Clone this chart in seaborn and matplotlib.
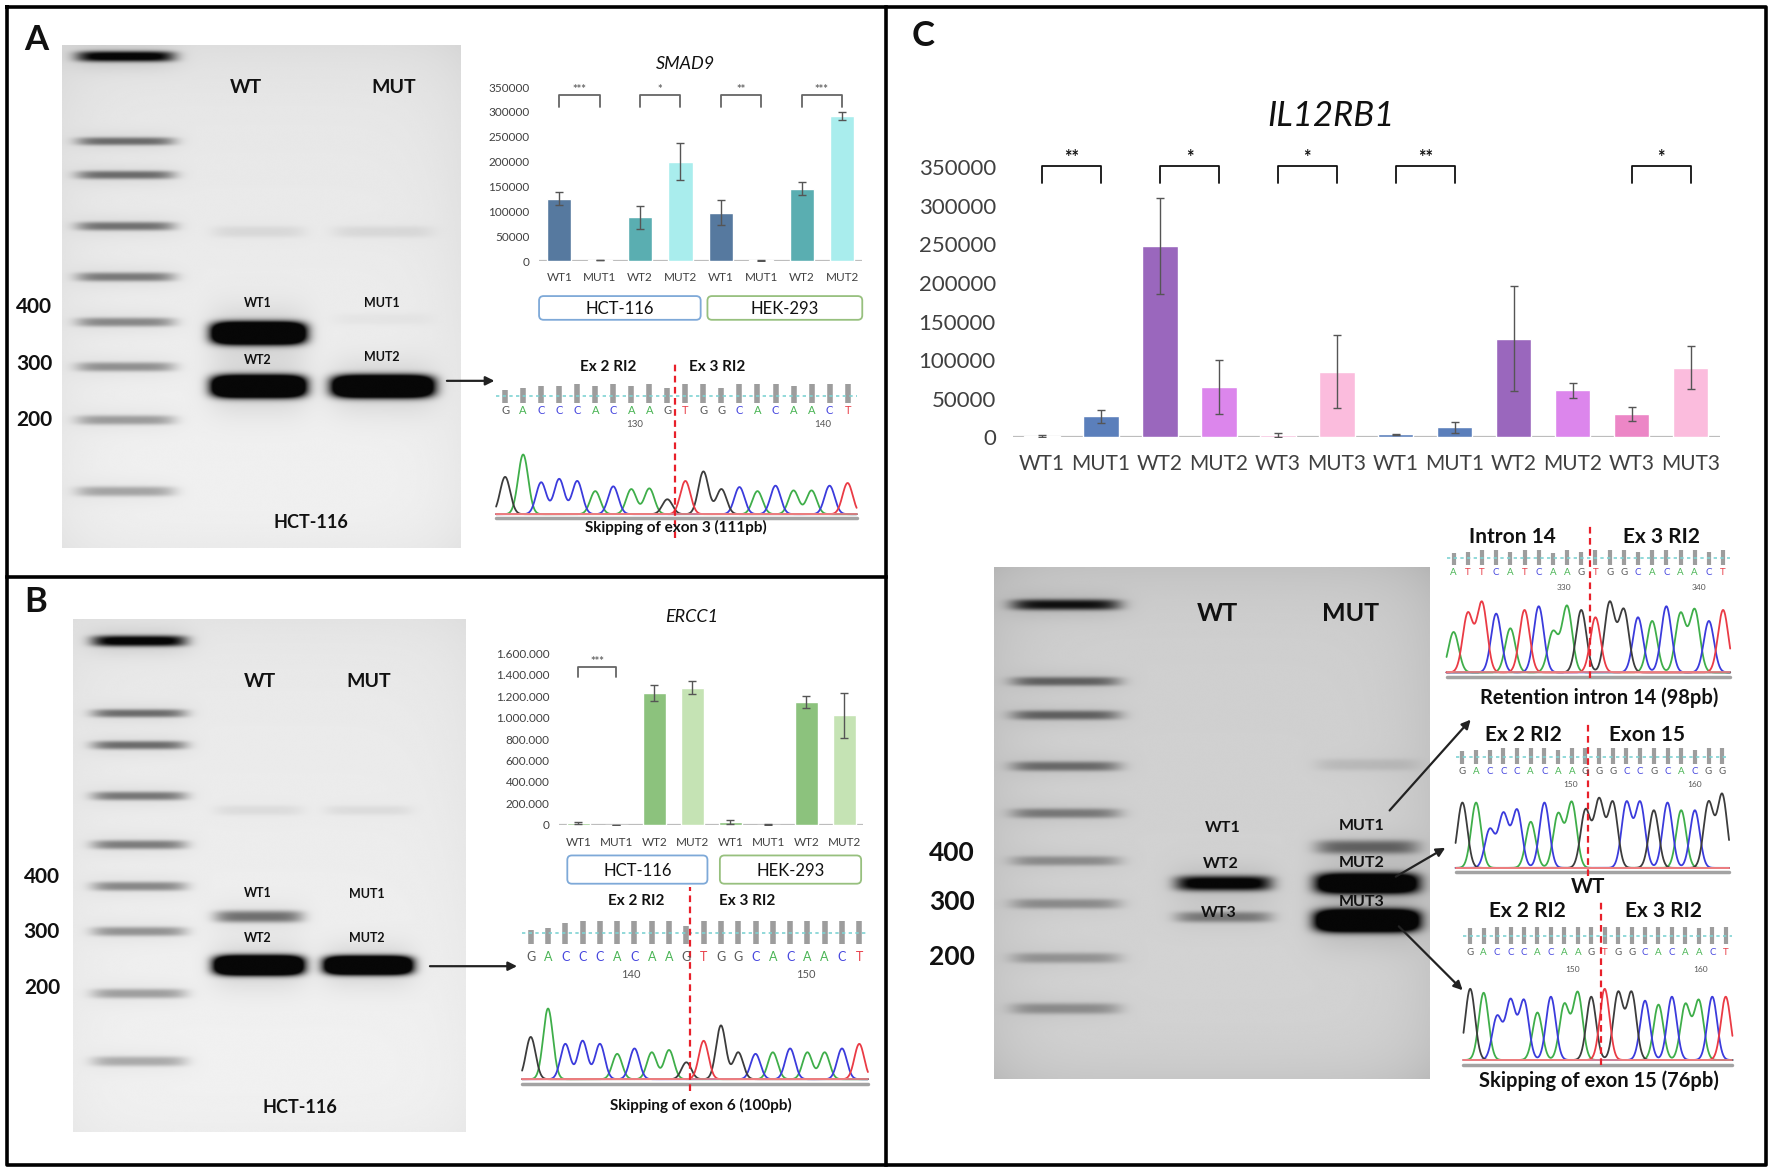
import numpy as np
import pandas as pd
import matplotlib
matplotlib.use("Agg")
import matplotlib.pyplot as plt
import seaborn as sns
from matplotlib.patches import FancyBboxPatch
from matplotlib.transforms import blended_transform_factory

# ---------------- data ----------------
smad9_labels = ["WT1", "MUT1", "WT2", "MUT2", "WT1", "MUT1", "WT2", "MUT2"]
smad9_values = [125000, 2000, 88000, 200000, 97000, 1500, 145000, 291000]
smad9_errors = [13000, 500, 23000, 38000, 25000, 500, 13000, 8000]
smad9_sig = [(0, 1, "***"), (2, 3, "*"), (4, 5, "**"), (6, 7, "***")]

ercc1_labels = ["WT1", "MUT1", "WT2", "MUT2", "WT1", "MUT1", "WT2", "MUT2"]
ercc1_values = [20000, 3000, 1230000, 1280000, 25000, 4000, 1145000, 1020000]
ercc1_errors = [8000, 1000, 75000, 60000, 20000, 1000, 55000, 210000]
ercc1_sig = [(0, 1, "***")]

il12_labels = ["WT1", "MUT1", "WT2", "MUT2", "WT3", "MUT3",
               "WT1", "MUT1", "WT2", "MUT2", "WT3", "MUT3"]
il12_values = [2000, 27000, 248000, 65000, 3000, 85000,
               4000, 13000, 128000, 61000, 30000, 90000]
il12_errors = [1000, 8000, 62000, 35000, 2500, 47000,
               600, 7000, 68000, 10000, 9000, 28000]
il12_sig = [(0, 1, "**"), (2, 3, "*"), (4, 5, "*"), (6, 7, "**"), (10, 11, "*")]

cell_lines = ["HCT-116", "HEK-293"]

# gel bands: migration (0 = top of gel, 1 = bottom) and darkness
gel_a_ladder = [0.022, 0.191, 0.258, 0.360, 0.461, 0.551, 0.640, 0.746, 0.888]
gel_a_ladder_int = [0.92, 0.48, 0.48, 0.46, 0.43, 0.38, 0.35, 0.31, 0.28]
gel_a_wt = [0.371, 0.573, 0.679]
gel_a_wt_int = [0.07, 1.0, 1.0]
gel_a_mut = [0.371, 0.545, 0.679]
gel_a_mut_int = [0.07, 0.03, 1.0]

gel_b_ladder = [0.044, 0.185, 0.247, 0.346, 0.441, 0.522, 0.610, 0.731, 0.863]
gel_b_ladder_int = [0.92, 0.48, 0.48, 0.44, 0.42, 0.38, 0.34, 0.30, 0.26]
gel_b_wt = [0.374, 0.581, 0.676]
gel_b_wt_int = [0.06, 0.45, 1.0]
gel_b_mut = [0.374, 0.676]
gel_b_mut_int = [0.06, 1.0]

gel_c_ladder = [0.073, 0.223, 0.289, 0.389, 0.481, 0.574, 0.658, 0.764, 0.863]
gel_c_ladder_int = [0.80, 0.48, 0.48, 0.44, 0.38, 0.30, 0.30, 0.27, 0.30]
gel_c_wt = [0.618, 0.684]
gel_c_wt_int = [0.82, 0.38]
gel_c_mut = [0.386, 0.547, 0.618, 0.691]
gel_c_mut_int = [0.10, 0.45, 0.92, 1.0]

# chromatograms: called bases, peak heights, quality bars
seq_a = "GACCCACAAGTGGCACAACT"
peaks_a = [0.55, 0.88, 0.47, 0.52, 0.49, 0.34, 0.41, 0.37, 0.38, 0.22,
           0.49, 0.63, 0.37, 0.40, 0.34, 0.42, 0.35, 0.35, 0.42, 0.46]
qual_a = [0.7, 0.8, 0.9, 0.9, 1.0, 0.9, 1.0, 0.9, 1.0, 0.8,
          1.0, 1.0, 0.8, 1.0, 1.0, 1.0, 0.9, 1.0, 1.0, 1.0]
seq_b = "GACCCACAAGTGGCACAACT"
peaks_b = [0.55, 0.92, 0.46, 0.50, 0.46, 0.33, 0.40, 0.35, 0.38, 0.22,
           0.50, 0.70, 0.35, 0.33, 0.35, 0.40, 0.35, 0.35, 0.40, 0.46]
qual_b = [0.6, 0.7, 0.9, 1.0, 1.0, 1.0, 1.0, 1.0, 1.0, 0.8,
          1.0, 1.0, 1.0, 1.0, 1.0, 1.0, 1.0, 1.0, 1.0, 1.0]
seq_c1 = "ATTCATCAAGTGGCACAACT"
peaks_c1 = [0.55, 0.80, 0.95, 0.80, 0.60, 0.85, 0.90, 0.55, 0.90, 0.85,
            0.75, 0.95, 0.85, 0.75, 0.70, 0.90, 0.80, 0.85, 0.70, 0.85]
qual_c1 = [0.8, 0.9, 1.0, 1.0, 0.9, 1.0, 1.0, 0.8, 1.0, 0.9,
           1.0, 1.0, 1.0, 0.9, 1.0, 1.0, 1.0, 1.0, 0.9, 1.0]
seq_c2 = "GACCCACAAGGGCCGCACGG"
peaks_c2 = [0.85, 0.85, 0.50, 0.70, 0.75, 0.60, 0.85, 0.70, 0.85, 0.75,
            0.88, 0.85, 0.85, 0.85, 0.75, 0.85, 0.75, 0.75, 0.85, 0.95]
qual_c2 = [0.8, 0.9, 0.9, 1.0, 1.0, 1.0, 1.0, 0.9, 1.0, 1.0,
           1.0, 1.0, 1.0, 1.0, 1.0, 1.0, 1.0, 0.9, 1.0, 1.0]
seq_c3 = "GACCCACAAGTGGCACAACT"
peaks_c3 = [0.90, 0.85, 0.55, 0.75, 0.75, 0.60, 0.80, 0.70, 0.85, 0.80,
            0.90, 0.85, 0.85, 0.75, 0.70, 0.80, 0.70, 0.75, 0.80, 0.80]
qual_c3 = [0.9, 0.9, 1.0, 1.0, 1.0, 1.0, 1.0, 1.0, 1.0, 1.0,
           1.0, 1.0, 1.0, 1.0, 1.0, 1.0, 1.0, 0.9, 1.0, 1.0]

# ---------------- styling ----------------
W, H = 1568, 1038
TRACE = {"A": "#3fae4a", "C": "#3b3bdc", "G": "#3c3c3c", "T": "#ea3b45"}
LETTER = {"A": "#49b454", "C": "#4646de", "G": "#5a5a5a", "T": "#e8404a"}

sns.set_theme(style="white")
plt.rcParams["font.family"] = ["Lato", "DejaVu Sans"]

fig = plt.figure(figsize=(17.72, 11.73), dpi=100)


def rect(x0, y0, x1, y1):
    return [x0 / W, 1 - y1 / H, (x1 - x0) / W, (y1 - y0) / H]


def bar_panel(box, labels, values, errors, colors, sig, sig_levels, fs_y, fs_x,
              pad_y, pad_x, ymax, step, fmt, sig_color, sig_fs, lw_err):
    ax = fig.add_axes(rect(*box))
    df = pd.DataFrame({"slot": [f"{l}_{i}" for i, l in enumerate(labels)],
                       "value": values})
    sns.barplot(data=df, x="slot", y="value", hue="slot", palette=colors,
                legend=False, width=0.6, saturation=1, ax=ax)
    ax.errorbar(range(len(values)), values, yerr=errors, fmt="none",
                ecolor="#555555", elinewidth=lw_err, capsize=3, capthick=lw_err)
    ax.set_ylim(0, ymax)
    ax.set_xlim(-0.5, len(values) - 0.5)
    ax.set_yticks(np.arange(0, ymax + 1, step))
    ax.set_yticklabels([fmt(v) for v in np.arange(0, ymax + 1, step)])
    ax.set_xticks(range(len(labels)))
    ax.set_xticklabels(labels)
    ax.set_xlabel("")
    ax.set_ylabel("")
    ax.tick_params(axis="y", length=0, pad=pad_y, labelsize=fs_y, labelcolor="#404040")
    ax.tick_params(axis="x", length=0, pad=pad_x, labelsize=fs_x, labelcolor="#404040")
    sns.despine(ax=ax, left=True, bottom=True)
    ax.axhline(0, color="#bdbdbd", lw=1.6, zorder=0.5)
    ax.set_facecolor("none")
    top, leg = sig_levels
    for i, j, txt in sig:
        ax.plot([i, i, j, j], [leg, top, top, leg], color=sig_color, lw=1.3,
                clip_on=False)
        ax.text((i + j) / 2, top, txt, ha="center", va="bottom", fontsize=sig_fs,
                color=sig_color, fontweight="bold", clip_on=False)
    return ax


def draw_gel(box, bg, lanes):
    """Render a gel photo: background plus soft blurred bands."""
    x0, y0, x1, y1 = box
    ax = fig.add_axes(rect(*box))
    ax.set_axis_off()
    ny, nx = int((y1 - y0) * 1.5), int((x1 - x0) * 1.5)
    yy = np.linspace(0, 1, ny)[:, None]
    xx = np.linspace(0, 1, nx)[None, :]
    base = bg[0] + (bg[1] - bg[0]) * yy - bg[2] * (2 * xx - 1) ** 6 - bg[2] * (2 * yy - 1) ** 8
    dark = np.zeros((ny, nx))
    for cx, hw, hh, gain, grow, pos, strength in lanes:
        for p, s in zip(pos, strength):
            thick = hh * (0.55 + 0.45 * s ** 2) * (1 + grow * p)
            amp = s * (1 + (gain - 1) * s ** 4)
            fx = np.exp(-np.abs((xx - cx) / hw) ** 6)
            fy = np.exp(-np.abs((yy - p) / thick) ** 3)
            glow = np.exp(-0.5 * ((yy - p) / (thick * 1.8)) ** 2) * \
                np.exp(-np.abs((xx - cx) / (hw * 1.08)) ** 4)
            dark += amp * fx * fy + 0.12 * s * glow
    img = base * (1 - np.clip(dark, 0, 0.97))
    ax.imshow(img, cmap="gray", vmin=0, vmax=1, extent=(0, 1, 1, 0),
              aspect="auto", interpolation="bicubic")
    ax.set_xlim(0, 1)
    ax.set_ylim(1, 0)
    return ax


def draw_trace(box, seq, peaks, qual, sigma, rows, nums, cut, fs_letter, bar_lw):
    x0, ytop, x1, ybase = box
    ax = fig.add_axes(rect(x0, ytop, x1, ybase))
    ax.set_facecolor("none")
    ax.set_axis_off()
    n = len(seq)
    ax.set_xlim(-0.5, n - 0.5)
    ax.set_ylim(0, 1)
    fr = lambda y: (ybase - y) / (ybase - ytop)
    tr = blended_transform_factory(ax.transData, ax.transAxes)
    xs = np.linspace(-0.5, n - 0.5, 900)
    for b in "ACGT":
        idx = [i for i, c in enumerate(seq) if c == b]
        ys = np.zeros_like(xs)
        for i in idx:
            ys += peaks[i] * np.exp(-0.5 * ((xs - i) / sigma) ** 2)
        ax.plot(xs, ys, color=TRACE[b], lw=1.3, clip_on=False)
    ax.plot([-0.5, n - 0.5], [0, 0], color="#f08a8a", lw=1.2, clip_on=False,
            transform=tr)
    ax.plot([-0.5, n - 0.5], [-0.06, -0.06], color="#a3a3a3", lw=2.5,
            clip_on=False, transform=tr)
    b0, b1 = fr(rows["bars_bot"]), fr(rows["bars_top"])
    for i, q in enumerate(qual):
        ax.vlines(i, b0, b0 + q * (b1 - b0), color="#9d9d9d", lw=bar_lw,
                  transform=tr, clip_on=False)
    ax.plot([-0.5, n - 0.5], [fr(rows["dots"])] * 2, color="#7fd3d3", lw=1.2,
            ls=(0, (2, 2)), transform=tr, clip_on=False)
    for i, c in enumerate(seq):
        ax.text(i, fr(rows["letters"]), c, color=LETTER[c], ha="center",
                va="center", fontsize=fs_letter, transform=tr, clip_on=False)
    for pos, lab in nums:
        ax.text(pos, fr(rows["nums"]), lab, color="#555555", ha="center",
                va="center", fontsize=fs_letter - 1, transform=tr, clip_on=False)
    ax.plot([cut, cut], [fr(rows["cut_bot"]), fr(rows["cut_top"])],
            color="#e8202a", lw=1.6, ls=(0, (3, 2)), transform=tr, clip_on=False)
    return ax


# ---------------- gels ----------------
draw_gel((55, 40, 408, 485), (0.90, 0.95, 0.03),
         [(0.159, 0.123, 0.011, 1.1, 0.6, gel_a_ladder, gel_a_ladder_int),
          (0.493, 0.116, 0.021, 2.4, 0.0, gel_a_wt, gel_a_wt_int),
          (0.805, 0.125, 0.021, 2.4, 0.0, gel_a_mut, gel_a_mut_int)])
draw_gel((65, 548, 412, 1002), (0.91, 0.95, 0.02),
         [(0.168, 0.120, 0.011, 1.1, 0.6, gel_b_ladder, gel_b_ladder_int),
          (0.473, 0.112, 0.018, 2.4, 0.0, gel_b_wt, gel_b_wt_int),
          (0.752, 0.110, 0.017, 2.4, 0.0, gel_b_mut, gel_b_mut_int)])
draw_gel((880, 502, 1265, 955), (0.81, 0.83, 0.05),
         [(0.164, 0.125, 0.012, 1.1, 0.6, gel_c_ladder, gel_c_ladder_int),
          (0.527, 0.110, 0.017, 1.6, 0.0, gel_c_wt, gel_c_wt_int),
          (0.857, 0.118, 0.021, 2.2, 0.0, gel_c_mut, gel_c_mut_int)])

# ---------------- bar charts ----------------
smad9_colors = ["#56799f", "#56799f", "#5aaeb1", "#a9eded",
                "#56799f", "#56799f", "#5aaeb1", "#a9eded"]
bar_panel((477, 77, 763, 231), smad9_labels, smad9_values, smad9_errors,
          smad9_colors, smad9_sig, (333000, 310000), 8.5, 8.5, 7, 8,
          350000, 50000, lambda v: f"{int(v)}", "#666666", 8, 1.0)

ercc1_colors = ["#8cc27d", "#c5e3b4", "#8cc27d", "#c5e3b4",
                "#8cc27d", "#c5e3b4", "#8cc27d", "#c5e3b4"]
bar_panel((495, 578, 764, 730), ercc1_labels, ercc1_values, ercc1_errors,
          ercc1_colors, ercc1_sig, (1470000, 1380000), 8.5, 8.5, 7, 9,
          1600000, 200000, lambda v: f"{int(v):,}".replace(",", "."),
          "#666666", 8, 1.0)

il12_colors = ["#5b7fbb", "#5b7fbb", "#9a67bd", "#dc86ec", "#f4b6d8", "#fbbcdd",
               "#5b7fbb", "#5b7fbb", "#9a67bd", "#dc86ec", "#ec86c6", "#fbbcdd"]
bar_panel((896, 148, 1522, 387), il12_labels, il12_values, il12_errors,
          il12_colors, il12_sig, (352000, 330000), 16, 15, 12, 12,
          350000, 50000, lambda v: f"{int(v)}", "#111111", 13, 1.0)

# ---------------- chromatograms ----------------
draw_trace((439, 395, 758, 455), seq_a, peaks_a, qual_a, 0.28,
           dict(bars_top=340, bars_bot=357, dots=350, letters=363, nums=376,
                cut_top=322, cut_bot=476),
           [(7.2, "130"), (17.6, "140")], 9.4, 8, 4)
draw_trace((462, 887, 768, 955), seq_b, peaks_b, qual_b, 0.28,
           dict(bars_top=815, bars_bot=835, dots=826, letters=847, nums=862,
                cut_top=785, cut_bot=965),
           [(5.8, "140"), (15.9, "150")], 9.2, 9, 4)
draw_trace((1280, 530, 1531, 595), seq_c1, peaks_c1, qual_c1, 0.36,
           dict(bars_top=487, bars_bot=500, dots=494, letters=507, nums=520,
                cut_top=465, cut_bot=600),
           [(7.8, "330"), (17.3, "340")], 9.6, 7, 3)
draw_trace((1288, 700, 1530, 768), seq_c2, peaks_c2, qual_c2, 0.36,
           dict(bars_top=662, bars_bot=676, dots=670, letters=683, nums=694,
                cut_top=640, cut_bot=775),
           [(7.9, "150"), (17.0, "160")], 9.2, 7, 3)
draw_trace((1295, 868, 1533, 938), seq_c3, peaks_c3, qual_c3, 0.36,
           dict(bars_top=820, bars_bot=835, dots=828, letters=843, nums=858,
                cut_top=797, cut_bot=942),
           [(7.6, "150"), (17.1, "160")], 9.7, 7, 3)

# ---------------- overlay: frames, labels, arrows ----------------
ov = fig.add_axes([0, 0, 1, 1], zorder=20)
ov.set_xlim(0, W)
ov.set_ylim(H, 0)
ov.set_axis_off()
ov.set_facecolor("none")

frame = dict(color="black", lw=2.6, solid_capstyle="projecting")
ov.plot([6, 1563, 1563, 6, 6], [6, 6, 1031, 1031, 6], **frame)
ov.plot([784, 784], [6, 1031], **frame)
ov.plot([6, 784], [511, 511], **frame)


def t(x, y, s, fs, **kw):
    kw.setdefault("fontweight", "bold")
    ov.text(x, y, s, fontsize=fs, ha="center", va="center", color="#111111", **kw)


t(32, 35, "A", 25)
t(32, 533, "B", 25)
t(817, 32, "C", 25)

# gel A
t(218, 77, "WT", 14)
t(348, 77, "MUT", 14)
for x, y, s in [(228, 268, "WT1"), (228, 319, "WT2"), (338, 268, "MUT1"), (338, 316, "MUT2")]:
    t(x, y, s, 9)
t(275, 462, "HCT-116", 13)
for y, s in [(272, "400"), (322, "300"), (372, "200")]:
    t(30, y, s, 15)
# gel B
t(230, 603, "WT", 14)
t(326, 603, "MUT", 14)
for x, y, s in [(228, 790, "WT1"), (228, 830, "WT2"), (325, 791, "MUT1"), (325, 830, "MUT2")]:
    t(x, y, s, 9)
t(265, 980, "HCT-116", 13)
for y, s in [(776, "400"), (825, "300"), (874, "200")]:
    t(37, y, s, 15)
# gel C
t(1077, 543, "WT", 18)
t(1195, 543, "MUT", 18)
for x, y, s in [(1082, 733, "WT1"), (1080, 765, "WT2"), (1078, 808, "WT3"),
                (1205, 731, "MUT1"), (1205, 764, "MUT2"), (1205, 798, "MUT3")]:
    t(x, y, s, 11.5)
for y, s in [(755, "400"), (798, "300"), (847, "200")]:
    t(842, y, s, 19)

# chart titles
t(607, 57, "SMAD9", 13, fontweight="normal", fontstyle="italic")
t(612, 546, "ERCC1", 13, fontweight="normal", fontstyle="italic")
t(1178, 103, "IL12RB1", 25, fontweight="normal", fontstyle="italic")

# cell line boxes
for (x0, y0, x1, y1), name, ec in [((477, 262, 620, 283), cell_lines[0], "#7ea9d8"),
                                   ((626, 262, 763, 283), cell_lines[1], "#97c07e"),
                                   ((502, 757, 626, 782), cell_lines[0], "#7ea9d8"),
                                   ((637, 757, 762, 782), cell_lines[1], "#97c07e")]:
    ov.add_patch(FancyBboxPatch((x0, y0), x1 - x0, y1 - y0,
                                boxstyle="round,pad=0,rounding_size=4",
                                fc="white", ec=ec, lw=1.3))
    t((x0 + x1) / 2, (y0 + y1) / 2 + 1, name, 12, fontweight="normal")

# chromatogram headings and captions
for x, y, s in [(538, 325, "Ex 2 RI2"), (635, 325, "Ex 3 RI2"),
                (563, 797, "Ex 2 RI2"), (661, 797, "Ex 3 RI2")]:
    t(x, y, s, 11)
t(598, 467, "Skipping of exon 3 (111pb)", 11)
t(620, 978, "Skipping of exon 6 (100pb)", 11)
for x, y, s in [(1338, 475, "Intron 14"), (1470, 475, "Ex 3 RI2"),
                (1348, 650, "Ex 2 RI2"), (1457, 650, "Exon 15"),
                (1352, 806, "Ex 2 RI2"), (1472, 806, "Ex 3 RI2")]:
    t(x, y, s, 15)
t(1415, 617, "Retention intron 14 (98pb)", 14.5)
t(1405, 785, "WT", 15)
t(1415, 956, "Skipping of exon 15 (76pb)", 14.5)

# arrows
arrow = dict(arrowstyle="-|>", color="#222222", lw=1.6, mutation_scale=13)
for start, end in [((393, 337), (440, 337)), ((378, 855), (460, 855)),
                   ((1228, 719), (1303, 635)), ((1233, 777), (1281, 749)),
                   ((1236, 818), (1296, 878))]:
    ov.annotate("", xy=end, xytext=start, arrowprops=arrow)

fig.savefig("out.png", dpi=100, facecolor="white")
